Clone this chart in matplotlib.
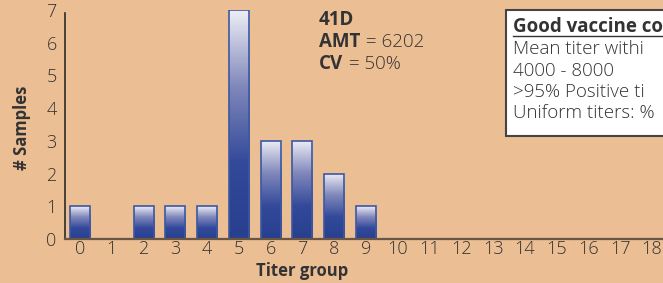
import numpy as np
import matplotlib
matplotlib.use("Agg")
import matplotlib.pyplot as plt
from matplotlib.colors import LinearSegmentedColormap
from matplotlib.patches import Rectangle

groups = list(range(19))
counts = [1, 0, 1, 1, 1, 7, 3, 3, 2, 1, 0, 0, 0, 0, 0, 0, 0, 0, 0]
y_ticks = [0, 1, 2, 3, 4, 5, 6, 7]
stats_title = "41D"
amt_value = "6202"
cv_value = "50%"
box_title = "Good vaccine co"
box_lines = ["Mean titer withi", "4000 - 8000", ">95% Positive ti", "Uniform titers: %"]

plt.rcParams['font.family'] = ['Open Sans', 'DejaVu Sans']
bg = '#ECBE94'
tc = '#333333'

fig = plt.figure(figsize=(6.63, 2.83), dpi=100, facecolor=bg)
ax = fig.add_axes([65/663, 1-239/283, (668-65)/663, 229/283])
ax.set_facecolor(bg)

cmap = LinearSegmentedColormap.from_list('g', ['#27408e', '#33499a', '#8088bb', '#eeeef6'])
grad = np.linspace(0, 1, 256).reshape(-1, 1)
w = 0.63
for g, c in zip(groups, counts):
    if c <= 0:
        continue
    rect = Rectangle((g - w/2, 0), w, c, facecolor='none', edgecolor='#3d57a3', linewidth=1.2, zorder=3)
    ax.add_patch(rect)
    im = ax.imshow(grad, cmap=cmap, aspect='auto', extent=(g - w/2, g + w/2, 0, c), origin='lower', zorder=2)
    im.set_clip_path(rect)
ax.set_xlim(-0.47, 18.5)
ax.set_ylim(0, 7)

for s in ['top', 'right']:
    ax.spines[s].set_visible(False)
ax.spines['left'].set_color('#2b2b2b')
ax.spines['left'].set_linewidth(1.2)
ax.spines['left'].set_bounds(0, 6.92)
ax.spines['bottom'].set_color('#6a5646')
ax.spines['bottom'].set_linewidth(1.6)
ax.spines['bottom'].set_zorder(4)

ax.set_xticks(groups)
ax.set_xticklabels([str(g) for g in groups])
ax.set_yticks(y_ticks)
ax.tick_params(axis='both', length=0, labelsize=13, colors=tc)
for lab in ax.get_xticklabels() + ax.get_yticklabels():
    lab.set_fontweight('light')
ax.tick_params(axis='x', pad=1)
ax.tick_params(axis='y', pad=6)

fig.text(302/663, 1-271/283, "Titer group", ha='center', va='center', fontsize=12, fontweight='bold', color=tc)
fig.text(22/663, 1-128/283, "# Samples", ha='center', va='center', rotation=90, fontsize=12, fontweight='bold', color=tc)

fs = 13.5
tx = 319/663
fig.text(tx, 1-20/283, stats_title, ha='left', va='center', fontsize=fs, fontweight='bold', color=tc)
t1 = fig.text(tx, 1-42/283, "AMT", ha='left', va='center', fontsize=fs, fontweight='bold', color=tc)
fig.canvas.draw()
r = fig.canvas.get_renderer()
bb = t1.get_window_extent(r)
fig.text((bb.x1 + 1)/663, 1-42/283, " = " + amt_value, ha='left', va='center', fontsize=fs, fontweight='light', color=tc)
t2 = fig.text(tx, 1-64/283, "CV", ha='left', va='center', fontsize=fs, fontweight='bold', color=tc)
bb2 = t2.get_window_extent(r)
fig.text((bb2.x1 + 1)/663, 1-64/283, " = " + cv_value, ha='left', va='center', fontsize=fs, fontweight='light', color=tc)

box = Rectangle((506/663, 1-136/283), 300/663, 126/283, transform=fig.transFigure,
                facecolor='white', edgecolor='#444444', linewidth=1.5, zorder=5)
fig.add_artist(box)
bx = 513/663
t = fig.text(bx, 1-27/283, box_title, ha='left', va='center', fontsize=fs, fontweight='bold', color=tc, zorder=6)
fig.add_artist(plt.Line2D([bx, 1.0], [1-36/283, 1-36/283], transform=fig.transFigure, color=tc, linewidth=1, zorder=6))
for i, line in enumerate(box_lines):
    fig.text(bx, 1-(49 + 21.5*i)/283, line, ha='left', va='center', fontsize=fs, fontweight='light', color=tc, zorder=6)

fig.savefig('out.png', dpi=100, facecolor=bg)
